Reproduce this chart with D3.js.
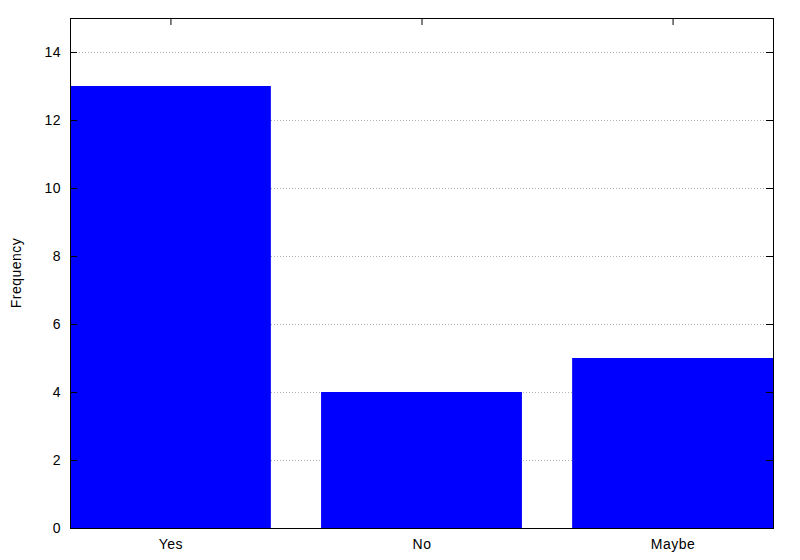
<!DOCTYPE html>
<html lang="en">
<head>
<meta charset="utf-8">
<title>Frequency</title>
<script src="https://d3js.org/d3.v7.min.js"></script>
<style>
body { margin: 0; background: #fff; }
text { font-family: "Liberation Sans", Arial, sans-serif; font-size: 14px; letter-spacing: 0.5px; fill: #000; }
</style>
</head>
<body>
<svg id="chart" width="800" height="560"></svg>
<script>
let categories = ["Yes", "No", "Maybe"];
let counts = [13, 4, 5];
let yTicks = [0, 2, 4, 6, 8, 10, 12, 14];

let plotL = 70, plotR = 773, plotT = 18, plotB = 528;
let svg = d3.select("#chart");

let x = d3.scaleLinear().domain([-0.4, 2.4]).range([plotL, plotR]);
let y = d3.scaleLinear().domain([0, 15]).range([plotB, plotT]);

// grid
svg.append("g").selectAll("line")
    .data(yTicks.filter(d => d > 0))
    .enter().append("line")
    .attr("x1", plotL).attr("x2", plotR)
    .attr("y1", d => y(d) + 0.5).attr("y2", d => y(d) + 0.5)
    .attr("stroke", "#b0b0b0")
    .attr("stroke-width", 1)
    .attr("stroke-dasharray", "1,2");

// bars
svg.append("g").selectAll("rect")
    .data(categories)
    .enter().append("rect")
    .attr("x", (d, i) => x(i - 0.4))
    .attr("width", (d, i) => x(i + 0.4) - x(i - 0.4))
    .attr("y", (d, i) => y(counts[i]))
    .attr("height", (d, i) => plotB - y(counts[i]))
    .attr("fill", "#0000ff");

// frame
svg.append("rect")
    .attr("x", plotL + 0.5).attr("y", plotT + 0.5)
    .attr("width", plotR - plotL).attr("height", plotB - plotT)
    .attr("fill", "none").attr("stroke", "#000").attr("stroke-width", 1);

// y ticks, left and right
let tk = 7;
let gy = svg.append("g");
yTicks.forEach(t => {
    gy.append("line").attr("x1", plotL).attr("x2", plotL + tk)
        .attr("y1", y(t) + 0.5).attr("y2", y(t) + 0.5).attr("stroke", "#000");
    gy.append("line").attr("x1", plotR - tk).attr("x2", plotR)
        .attr("y1", y(t) + 0.5).attr("y2", y(t) + 0.5).attr("stroke", "#000");
    gy.append("text").attr("x", 61).attr("y", y(t) + 5)
        .attr("text-anchor", "end").text(t);
});

// x ticks and labels
let gx = svg.append("g");
categories.forEach((c, i) => {
    gx.append("line").attr("x1", x(i) + 0.5).attr("x2", x(i) + 0.5)
        .attr("y1", plotT).attr("y2", plotT + tk).attr("stroke", "#000");
    gx.append("text").attr("x", x(i) + 0.5).attr("y", 549)
        .attr("text-anchor", "middle").text(c);
});

svg.append("text")
    .attr("transform", "translate(21,273) rotate(-90)")
    .attr("text-anchor", "middle")
    .text("Frequency");
</script>
</body>
</html>
